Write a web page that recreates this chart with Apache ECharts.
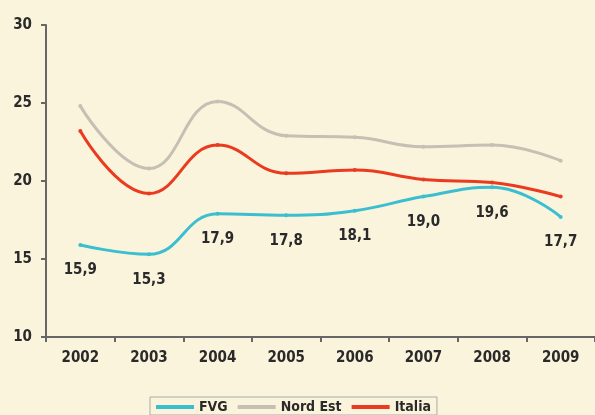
<!DOCTYPE html>
<html><head><meta charset="utf-8">
<script src="https://cdn.jsdelivr.net/npm/echarts@6/dist/echarts.min.js"></script>
<style>html,body{margin:0;padding:0;background:#fbf4dc;}#c{width:595px;height:415px;}</style>
</head><body><div id="c"></div>
<script>
const years = ['2002','2003','2004','2005','2006','2007','2008','2009'];
const fvg = [15.9, 15.3, 17.9, 17.8, 18.1, 19.0, 19.6, 17.7];
const nordEst = [24.8, 20.8, 25.1, 22.9, 22.8, 22.2, 22.3, 21.3];
const italia = [23.2, 19.2, 22.3, 20.5, 20.7, 20.1, 19.9, 19.0];
const yTicks = [10, 15, 20, 25, 30];

const chart = echarts.init(document.getElementById('c'));
const txt = {color:'#2a2a2a', fontFamily:'Liberation Sans Narrow, DejaVu Sans Condensed, sans-serif', fontSize:15, fontWeight:'bold'};
function mk(name, data, color, width, labels){
  return {
    name, type:'line', data, smooth:0.45, symbol:'circle', symbolSize:4,
    itemStyle:{color}, lineStyle:{color, width},
    label: labels ? Object.assign({show:true, position:'bottom', distance:16,
      formatter:p=>p.value.toFixed(1).replace('.',',')}, txt) : {show:false},
    z: labels ? 3 : 2
  };
}
chart.setOption({
  backgroundColor:'#fbf4dc',
  animation:false,
  grid:{left:46, top:25, width:552, height:312, containLabel:false},
  legend:{
    bottom:0, left:150, itemGap:10, itemWidth:38, itemHeight:4,
    borderColor:'#aaa', borderWidth:1, padding:[3,6,1,6],
    textStyle:Object.assign({}, txt, {fontSize:14}),
    icon:'rect',
    data:['FVG','Nord Est','Italia']
  },
  xAxis:{
    type:'category', data:years, boundaryGap:true,
    axisLine:{lineStyle:{color:'#666', width:2}},
    axisTick:{show:true, length:5, lineStyle:{color:'#666', width:2}},
    axisLabel:Object.assign({margin:14}, txt)
  },
  yAxis:{
    type:'value', min:yTicks[0], max:yTicks[yTicks.length-1], interval:5,
    axisLine:{show:true, lineStyle:{color:'#666', width:2}},
    axisTick:{show:true, length:5, lineStyle:{color:'#666', width:2}},
    splitLine:{show:false},
    axisLabel:Object.assign({margin:14}, txt)
  },
  series:[
    mk('FVG', fvg, '#3bbfd0', 3, true),
    mk('Nord Est', nordEst, '#c6bfb4', 3, false),
    mk('Italia', italia, '#ea3a1f', 3, false)
  ]
});
</script></body></html>
